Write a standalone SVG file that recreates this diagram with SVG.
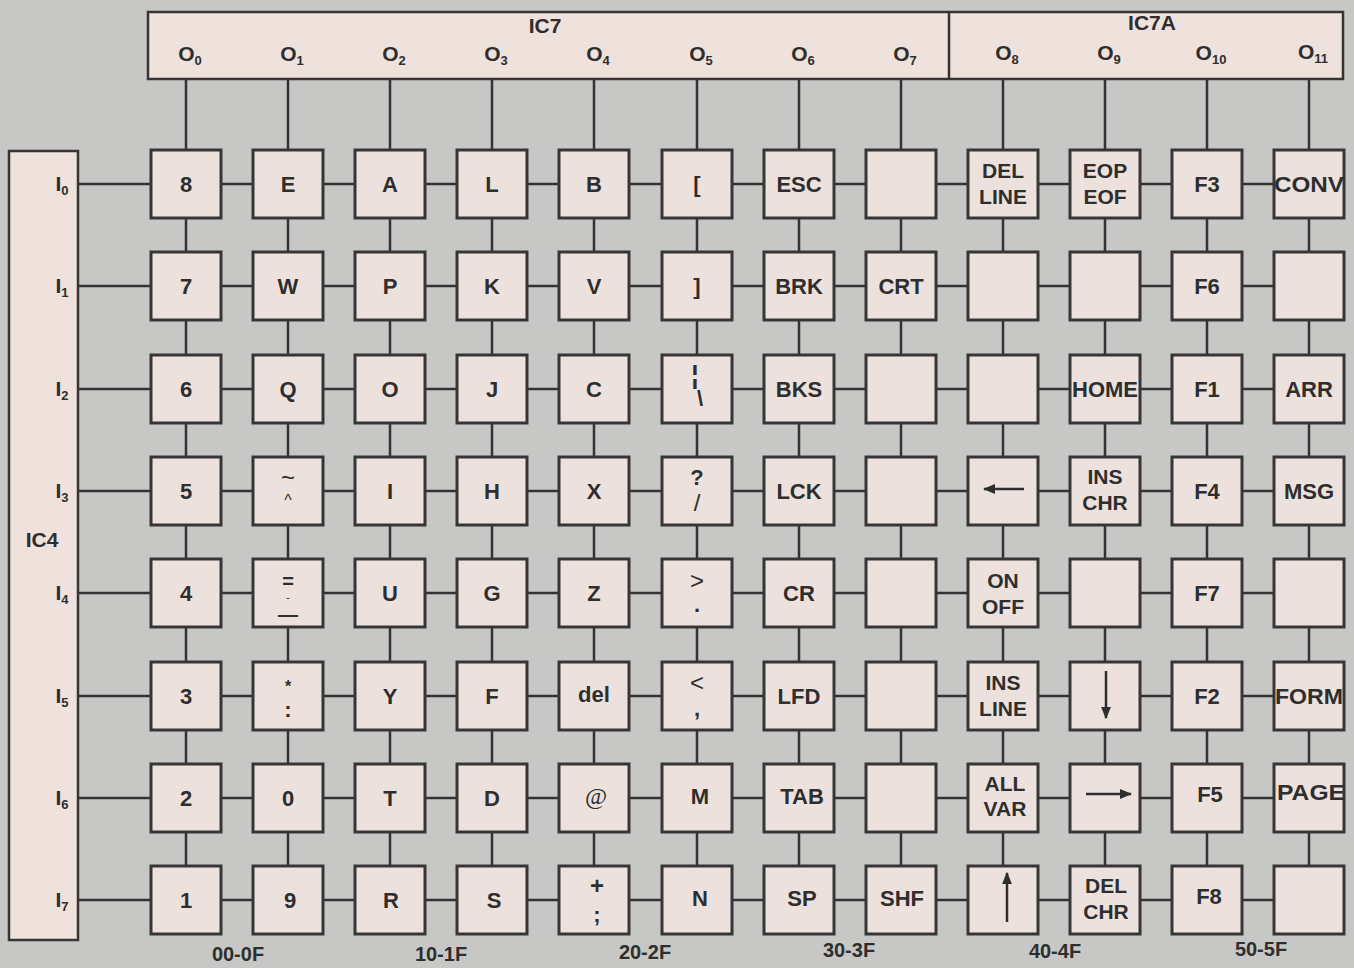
<svg xmlns="http://www.w3.org/2000/svg" width="1354" height="968" viewBox="0 0 1354 968">
<defs>
<style>
.bg{fill:#c7c8c6}
.chip{fill:#efe1dc;stroke:#353535;stroke-width:2.5}
.key{fill:#ede1dd;stroke:#363636;stroke-width:3}
.wire{stroke:#333;stroke-width:2.5;fill:none}
text{font-family:"Liberation Sans",Arial,sans-serif;fill:#2e2e2e;font-weight:bold}
.k{font-size:22px;text-anchor:middle}
.k2{font-size:21px;text-anchor:middle}
.sym{font-size:24px;text-anchor:middle;font-weight:normal}
.hd{font-size:21px;text-anchor:middle}
.sub{font-size:13px}
.bot{font-size:20px;text-anchor:middle}
.arr{stroke:#2e2e2e;stroke-width:2.5;fill:none}
</style>
<marker id="ah" viewBox="0 0 10 10" refX="9" refY="5" markerWidth="5" markerHeight="5" orient="auto" markerUnits="strokeWidth">
<path d="M0,1 L10,5 L0,9 Z" fill="#2e2e2e"/>
</marker>
</defs>
<rect class="bg" x="0" y="0" width="1354" height="968"/>

<g id="connectors">
<path class="wire" d="M186,79V866M288,79V866M390,79V866M492,79V866M594,79V866M697,79V866M799,79V866M901,79V866M1003,79V866M1105,79V866M1207,79V866M1309,79V866"/>
<path class="wire" d="M78,184H1274M78,286H1274M78,389H1274M78,491H1274M78,593H1274M78,696H1274M78,798H1274M78,900H1274"/>
</g>

<g id="IC7">
<rect class="chip" x="148" y="12" width="1195" height="67"/>
<line class="wire" x1="949" y1="12" x2="949" y2="79"/>
<text class="hd" x="545" y="33">IC7</text>
<text class="hd" x="1152" y="30">IC7A</text>
<text class="hd" x="190" y="61">O<tspan class="sub" dy="4">0</tspan></text>
<text class="hd" x="292" y="61">O<tspan class="sub" dy="4">1</tspan></text>
<text class="hd" x="394" y="61">O<tspan class="sub" dy="4">2</tspan></text>
<text class="hd" x="496" y="61">O<tspan class="sub" dy="4">3</tspan></text>
<text class="hd" x="598" y="61">O<tspan class="sub" dy="4">4</tspan></text>
<text class="hd" x="701" y="61">O<tspan class="sub" dy="4">5</tspan></text>
<text class="hd" x="803" y="61">O<tspan class="sub" dy="4">6</tspan></text>
<text class="hd" x="905" y="61">O<tspan class="sub" dy="4">7</tspan></text>
<text class="hd" x="1007" y="60">O<tspan class="sub" dy="4">8</tspan></text>
<text class="hd" x="1109" y="60">O<tspan class="sub" dy="4">9</tspan></text>
<text class="hd" x="1211" y="60">O<tspan class="sub" dy="4">10</tspan></text>
<text class="hd" x="1313" y="59">O<tspan class="sub" dy="4">11</tspan></text>
</g>

<g id="IC4">
<rect class="chip" x="9" y="151" width="69" height="789"/>
<text class="hd" x="42" y="547">IC4</text>
<text class="hd" x="62" y="191">I<tspan class="sub" dy="4">0</tspan></text>
<text class="hd" x="62" y="293">I<tspan class="sub" dy="4">1</tspan></text>
<text class="hd" x="62" y="396">I<tspan class="sub" dy="4">2</tspan></text>
<text class="hd" x="62" y="498">I<tspan class="sub" dy="4">3</tspan></text>
<text class="hd" x="62" y="600">I<tspan class="sub" dy="4">4</tspan></text>
<text class="hd" x="62" y="703">I<tspan class="sub" dy="4">5</tspan></text>
<text class="hd" x="62" y="805">I<tspan class="sub" dy="4">6</tspan></text>
<text class="hd" x="62" y="907">I<tspan class="sub" dy="4">7</tspan></text>
</g>

<!-- Row 0 -->
<g id="k00"><rect class="key" x="151" y="150" width="70" height="68"/><text class="k" x="186" y="192">8</text></g>
<g id="k01"><rect class="key" x="253" y="150" width="70" height="68"/><text class="k" x="288" y="192">E</text></g>
<g id="k02"><rect class="key" x="355" y="150" width="70" height="68"/><text class="k" x="390" y="192">A</text></g>
<g id="k03"><rect class="key" x="457" y="150" width="70" height="68"/><text class="k" x="492" y="192">L</text></g>
<g id="k04"><rect class="key" x="559" y="150" width="70" height="68"/><text class="k" x="594" y="192">B</text></g>
<g id="k05"><rect class="key" x="662" y="150" width="70" height="68"/><text class="k" x="697" y="192">[</text></g>
<g id="k06"><rect class="key" x="764" y="150" width="70" height="68"/><text class="k" x="799" y="192">ESC</text></g>
<g id="k07"><rect class="key" x="866" y="150" width="70" height="68"/></g>
<g id="k08"><rect class="key" x="968" y="150" width="70" height="68"/><text class="k2" x="1003" y="178">DEL</text><text class="k2" x="1003" y="204">LINE</text></g>
<g id="k09"><rect class="key" x="1070" y="150" width="70" height="68"/><text class="k2" x="1105" y="178">EOP</text><text class="k2" x="1105" y="204">EOF</text></g>
<g id="k010"><rect class="key" x="1172" y="150" width="70" height="68"/><text class="k" x="1207" y="192">F3</text></g>
<g id="k011"><rect class="key" x="1274" y="150" width="70" height="68"/><text class="k" x="1309" y="192" textLength="70" lengthAdjust="spacingAndGlyphs">CONV</text></g>

<!-- Row 1 -->
<g id="k10"><rect class="key" x="151" y="252" width="70" height="68"/><text class="k" x="186" y="294">7</text></g>
<g id="k11"><rect class="key" x="253" y="252" width="70" height="68"/><text class="k" x="288" y="294">W</text></g>
<g id="k12"><rect class="key" x="355" y="252" width="70" height="68"/><text class="k" x="390" y="294">P</text></g>
<g id="k13"><rect class="key" x="457" y="252" width="70" height="68"/><text class="k" x="492" y="294">K</text></g>
<g id="k14"><rect class="key" x="559" y="252" width="70" height="68"/><text class="k" x="594" y="294">V</text></g>
<g id="k15"><rect class="key" x="662" y="252" width="70" height="68"/><text class="k" x="697" y="294">]</text></g>
<g id="k16"><rect class="key" x="764" y="252" width="70" height="68"/><text class="k" x="799" y="294">BRK</text></g>
<g id="k17"><rect class="key" x="866" y="252" width="70" height="68"/><text class="k" x="901" y="294">CRT</text></g>
<g id="k18"><rect class="key" x="968" y="252" width="70" height="68"/></g>
<g id="k19"><rect class="key" x="1070" y="252" width="70" height="68"/></g>
<g id="k110"><rect class="key" x="1172" y="252" width="70" height="68"/><text class="k" x="1207" y="294">F6</text></g>
<g id="k111"><rect class="key" x="1274" y="252" width="70" height="68"/></g>

<!-- Row 2 -->
<g id="k20"><rect class="key" x="151" y="355" width="70" height="68"/><text class="k" x="186" y="397">6</text></g>
<g id="k21"><rect class="key" x="253" y="355" width="70" height="68"/><text class="k" x="288" y="397">Q</text></g>
<g id="k22"><rect class="key" x="355" y="355" width="70" height="68"/><text class="k" x="390" y="397">O</text></g>
<g id="k23"><rect class="key" x="457" y="355" width="70" height="68"/><text class="k" x="492" y="397">J</text></g>
<g id="k24"><rect class="key" x="559" y="355" width="70" height="68"/><text class="k" x="594" y="397">C</text></g>
<g id="k25"><rect class="key" x="662" y="355" width="70" height="68"/><text class="k" x="695" y="384" style="font-size:26px">¦</text><text class="k" x="700" y="406">\</text></g>
<g id="k26"><rect class="key" x="764" y="355" width="70" height="68"/><text class="k" x="799" y="397">BKS</text></g>
<g id="k27"><rect class="key" x="866" y="355" width="70" height="68"/></g>
<g id="k28"><rect class="key" x="968" y="355" width="70" height="68"/></g>
<g id="k29"><rect class="key" x="1070" y="355" width="70" height="68"/><text class="k" x="1105" y="397" textLength="66" lengthAdjust="spacingAndGlyphs">HOME</text></g>
<g id="k210"><rect class="key" x="1172" y="355" width="70" height="68"/><text class="k" x="1207" y="397">F1</text></g>
<g id="k211"><rect class="key" x="1274" y="355" width="70" height="68"/><text class="k" x="1309" y="397">ARR</text></g>

<!-- Row 3 -->
<g id="k30"><rect class="key" x="151" y="457" width="70" height="68"/><text class="k" x="186" y="499">5</text></g>
<g id="k31"><rect class="key" x="253" y="457" width="70" height="68"/><text class="sym" x="288" y="486">~</text><text class="sym" x="288" y="506" style="font-size:16px">^</text></g>
<g id="k32"><rect class="key" x="355" y="457" width="70" height="68"/><text class="k" x="390" y="499">I</text></g>
<g id="k33"><rect class="key" x="457" y="457" width="70" height="68"/><text class="k" x="492" y="499">H</text></g>
<g id="k34"><rect class="key" x="559" y="457" width="70" height="68"/><text class="k" x="594" y="499">X</text></g>
<g id="k35"><rect class="key" x="662" y="457" width="70" height="68"/><text class="k" x="697" y="485">?</text><text class="sym" x="697" y="511">/</text></g>
<g id="k36"><rect class="key" x="764" y="457" width="70" height="68"/><text class="k" x="799" y="499">LCK</text></g>
<g id="k37"><rect class="key" x="866" y="457" width="70" height="68"/></g>
<g id="k38"><rect class="key" x="968" y="457" width="70" height="68"/><line class="arr" x1="1024" y1="489" x2="984" y2="489" marker-end="url(#ah)"/></g>
<g id="k39"><rect class="key" x="1070" y="457" width="70" height="68"/><text class="k2" x="1105" y="484">INS</text><text class="k2" x="1105" y="510">CHR</text></g>
<g id="k310"><rect class="key" x="1172" y="457" width="70" height="68"/><text class="k" x="1207" y="499">F4</text></g>
<g id="k311"><rect class="key" x="1274" y="457" width="70" height="68"/><text class="k" x="1309" y="499">MSG</text></g>

<!-- Row 4 -->
<g id="k40"><rect class="key" x="151" y="559" width="70" height="68"/><text class="k" x="186" y="601">4</text></g>
<g id="k41"><rect class="key" x="253" y="559" width="70" height="68"/><text class="k" x="288" y="588" style="font-size:20px">=</text><text class="sym" x="288" y="601" style="font-size:10px">-</text><text class="k" x="288" y="621" style="font-size:20px">—</text></g>
<g id="k42"><rect class="key" x="355" y="559" width="70" height="68"/><text class="k" x="390" y="601">U</text></g>
<g id="k43"><rect class="key" x="457" y="559" width="70" height="68"/><text class="k" x="492" y="601">G</text></g>
<g id="k44"><rect class="key" x="559" y="559" width="70" height="68"/><text class="k" x="594" y="601">Z</text></g>
<g id="k45"><rect class="key" x="662" y="559" width="70" height="68"/><text class="sym" x="697" y="589">&gt;</text><text class="k" x="697" y="612">.</text></g>
<g id="k46"><rect class="key" x="764" y="559" width="70" height="68"/><text class="k" x="799" y="601">CR</text></g>
<g id="k47"><rect class="key" x="866" y="559" width="70" height="68"/></g>
<g id="k48"><rect class="key" x="968" y="559" width="70" height="68"/><text class="k2" x="1003" y="588">ON</text><text class="k2" x="1003" y="614">OFF</text></g>
<g id="k49"><rect class="key" x="1070" y="559" width="70" height="68"/></g>
<g id="k410"><rect class="key" x="1172" y="559" width="70" height="68"/><text class="k" x="1207" y="601">F7</text></g>
<g id="k411"><rect class="key" x="1274" y="559" width="70" height="68"/></g>

<!-- Row 5 -->
<g id="k50"><rect class="key" x="151" y="662" width="70" height="68"/><text class="k" x="186" y="704">3</text></g>
<g id="k51"><rect class="key" x="253" y="662" width="70" height="68"/><text class="k" x="288" y="692" style="font-size:16px">*</text><text class="k" x="288" y="717">:</text></g>
<g id="k52"><rect class="key" x="355" y="662" width="70" height="68"/><text class="k" x="390" y="704">Y</text></g>
<g id="k53"><rect class="key" x="457" y="662" width="70" height="68"/><text class="k" x="492" y="704">F</text></g>
<g id="k54"><rect class="key" x="559" y="662" width="70" height="68"/><text class="k" x="594" y="702">del</text></g>
<g id="k55"><rect class="key" x="662" y="662" width="70" height="68"/><text class="sym" x="697" y="691">&lt;</text><text class="k" x="697" y="716">,</text></g>
<g id="k56"><rect class="key" x="764" y="662" width="70" height="68"/><text class="k" x="799" y="704">LFD</text></g>
<g id="k57"><rect class="key" x="866" y="662" width="70" height="68"/></g>
<g id="k58"><rect class="key" x="968" y="662" width="70" height="68"/><text class="k2" x="1003" y="690">INS</text><text class="k2" x="1003" y="716">LINE</text></g>
<g id="k59"><rect class="key" x="1070" y="662" width="70" height="68"/><line class="arr" x1="1106" y1="671" x2="1106" y2="718" marker-end="url(#ah)"/></g>
<g id="k510"><rect class="key" x="1172" y="662" width="70" height="68"/><text class="k" x="1207" y="704">F2</text></g>
<g id="k511"><rect class="key" x="1274" y="662" width="70" height="68"/><text class="k" x="1309" y="704" textLength="68" lengthAdjust="spacingAndGlyphs">FORM</text></g>

<!-- Row 6 -->
<g id="k60"><rect class="key" x="151" y="764" width="70" height="68"/><text class="k" x="186" y="806">2</text></g>
<g id="k61"><rect class="key" x="253" y="764" width="70" height="68"/><text class="k" x="288" y="806">0</text></g>
<g id="k62"><rect class="key" x="355" y="764" width="70" height="68"/><text class="k" x="390" y="806">T</text></g>
<g id="k63"><rect class="key" x="457" y="764" width="70" height="68"/><text class="k" x="492" y="806">D</text></g>
<g id="k64"><rect class="key" x="559" y="764" width="70" height="68"/><text class="sym" x="596" y="804" style="font-family:'Liberation Serif',serif">@</text></g>
<g id="k65"><rect class="key" x="662" y="764" width="70" height="68"/><text class="k" x="700" y="804">M</text></g>
<g id="k66"><rect class="key" x="764" y="764" width="70" height="68"/><text class="k" x="802" y="804">TAB</text></g>
<g id="k67"><rect class="key" x="866" y="764" width="70" height="68"/></g>
<g id="k68"><rect class="key" x="968" y="764" width="70" height="68"/><text class="k2" x="1005" y="791">ALL</text><text class="k2" x="1005" y="816">VAR</text></g>
<g id="k69"><rect class="key" x="1070" y="764" width="70" height="68"/><line class="arr" x1="1086" y1="794" x2="1131" y2="794" marker-end="url(#ah)"/></g>
<g id="k610"><rect class="key" x="1172" y="764" width="70" height="68"/><text class="k" x="1210" y="802">F5</text></g>
<g id="k611"><rect class="key" x="1274" y="764" width="70" height="68"/><text class="k" x="1311" y="800" textLength="68" lengthAdjust="spacingAndGlyphs">PAGE</text></g>

<!-- Row 7 -->
<g id="k70"><rect class="key" x="151" y="866" width="70" height="68"/><text class="k" x="186" y="908">1</text></g>
<g id="k71"><rect class="key" x="253" y="866" width="70" height="68"/><text class="k" x="290" y="908">9</text></g>
<g id="k72"><rect class="key" x="355" y="866" width="70" height="68"/><text class="k" x="391" y="908">R</text></g>
<g id="k73"><rect class="key" x="457" y="866" width="70" height="68"/><text class="k" x="494" y="908">S</text></g>
<g id="k74"><rect class="key" x="559" y="866" width="70" height="68"/><text class="sym" x="597" y="894" style="font-weight:bold">+</text><text class="k" x="597" y="922">;</text></g>
<g id="k75"><rect class="key" x="662" y="866" width="70" height="68"/><text class="k" x="700" y="906">N</text></g>
<g id="k76"><rect class="key" x="764" y="866" width="70" height="68"/><text class="k" x="802" y="906">SP</text></g>
<g id="k77"><rect class="key" x="866" y="866" width="70" height="68"/><text class="k" x="902" y="906">SHF</text></g>
<g id="k78"><rect class="key" x="968" y="866" width="70" height="68"/><line class="arr" x1="1007" y1="922" x2="1007" y2="873" marker-end="url(#ah)"/></g>
<g id="k79"><rect class="key" x="1070" y="866" width="70" height="68"/><text class="k2" x="1106" y="893">DEL</text><text class="k2" x="1106" y="919">CHR</text></g>
<g id="k710"><rect class="key" x="1172" y="866" width="70" height="68"/><text class="k" x="1209" y="904">F8</text></g>
<g id="k711"><rect class="key" x="1274" y="866" width="70" height="68"/></g>

<g id="ranges">
<text class="bot" x="238" y="961">00-0F</text>
<text class="bot" x="441" y="961">10-1F</text>
<text class="bot" x="645" y="959">20-2F</text>
<text class="bot" x="849" y="957">30-3F</text>
<text class="bot" x="1055" y="958">40-4F</text>
<text class="bot" x="1261" y="956">50-5F</text>
</g>
</svg>
